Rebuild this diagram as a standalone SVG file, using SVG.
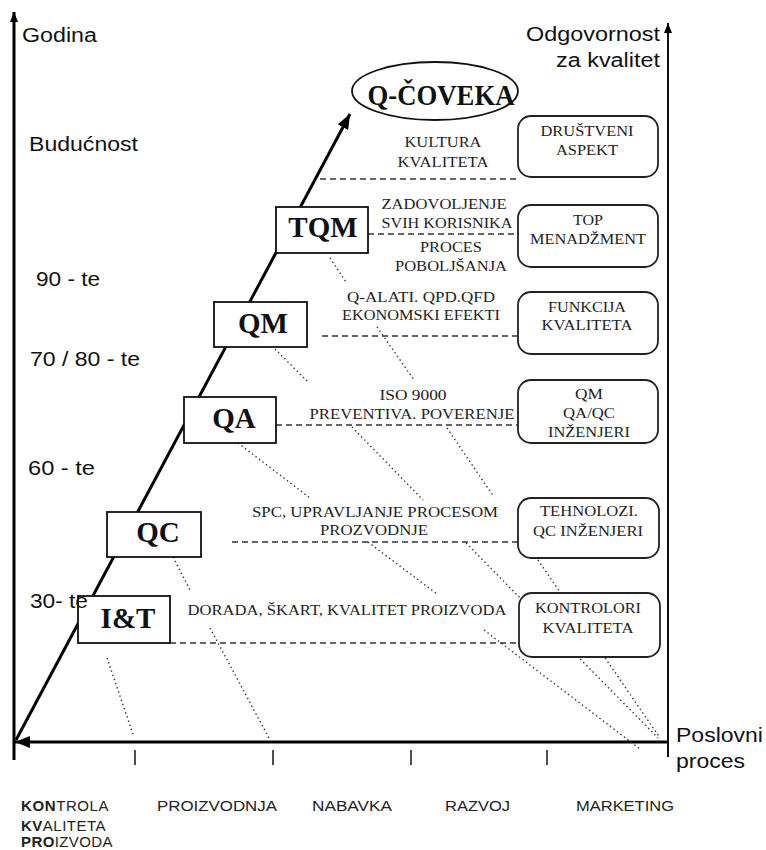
<svg xmlns="http://www.w3.org/2000/svg" width="766" height="850" viewBox="0 0 766 850">
<style>
.box{fill:#fff;stroke:#111;stroke-width:1.8}
.rbox{fill:#fff;stroke:#222;stroke-width:1.8}
.big{font-family:"Liberation Serif","Times New Roman",serif;font-weight:bold;font-size:29px;fill:#111;text-anchor:middle}
.sm{font-family:"Liberation Serif","Times New Roman",serif;font-size:14.5px;fill:#222;text-anchor:middle}
.ax{font-family:"Liberation Sans",Arial,sans-serif;font-size:20px;fill:#111}
.bt{font-family:"Liberation Sans",Arial,sans-serif;font-size:15px;fill:#222}
.dash{stroke:#333;stroke-width:1.6;stroke-dasharray:6 4;fill:none}
.dot{stroke:#333;stroke-width:1.4;stroke-dasharray:1.4 3;fill:none}
</style>
<defs>
<marker id="ah" markerUnits="userSpaceOnUse" markerWidth="16" markerHeight="12" refX="15" refY="6" orient="auto"><path d="M0,0 L15,6 L0,12 z" fill="#000"/></marker>
<marker id="ahs" markerUnits="userSpaceOnUse" markerWidth="10" markerHeight="8" refX="10" refY="4" orient="auto"><path d="M0,0 L10,4 L0,8 z" fill="#000"/></marker>
</defs>
<rect width="766" height="850" fill="#fff"/>
<g id="connectors">
<!-- axes -->
<line x1="14" y1="760" x2="14" y2="12" stroke="#000" stroke-width="3" marker-end="url(#ahs)"/>
<line x1="668" y1="742" x2="15" y2="742" stroke="#000" stroke-width="3.2" marker-end="url(#ah)"/>
<line x1="668" y1="757" x2="668" y2="23" stroke="#111" stroke-width="2" marker-end="url(#ahs)"/>
<g stroke="#222" stroke-width="1.6">
<line x1="135" y1="750" x2="135" y2="765"/>
<line x1="273" y1="750" x2="273" y2="765"/>
<line x1="411" y1="750" x2="411" y2="765"/>
<line x1="547" y1="750" x2="547" y2="765"/>
</g>
<!-- main diagonal -->
<line x1="16" y1="740" x2="350" y2="114" stroke="#000" stroke-width="3" marker-end="url(#ah)"/>
<!-- dashed level lines -->
<line class="dash" x1="320" y1="179" x2="518" y2="179"/>
<line class="dash" x1="368" y1="234" x2="518" y2="234"/>
<line class="dash" x1="322" y1="336" x2="518" y2="336"/>
<line class="dash" x1="276" y1="425" x2="518" y2="425"/>
<line class="dash" x1="232" y1="542" x2="518" y2="542"/>
<line class="dash" x1="170" y1="643" x2="519" y2="643"/>
<!-- dotted lines -->
<line class="dot" x1="107" y1="658" x2="134" y2="737"/>
<path class="dot" d="M173,557 L191,592 M210,628 L270,740"/>
<path class="dot" d="M238,443 L310,498 M368,542 L437,594 M484,630 L640,749"/>
<path class="dot" d="M275,349 L308,382 M352,427 L423,500 M466,543 L658,738"/>
<path class="dot" d="M330,258 L346,282 M377,327 L414,380 M447,428 L494,497 M538,560 L660,738"/>
</g>
<g id="qcoveka">
<ellipse cx="435" cy="91" rx="83" ry="29" fill="#fff" stroke="#111" stroke-width="1.8"/>
<text class="big" x="441" y="105" font-size="27" textLength="147" lengthAdjust="spacingAndGlyphs">Q-ČOVEKA</text>
</g>
<g id="tqm"><rect class="box" x="276" y="207" width="92" height="46"/><text class="big" x="323" y="237">TQM</text></g>
<g id="qm"><rect class="box" x="214" y="302" width="93" height="45"/><text class="big" x="263" y="333">QM</text></g>
<g id="qa"><rect class="box" x="184" y="397" width="92" height="46"/><text class="big" x="234" y="428">QA</text></g>
<g id="qc"><rect class="box" x="107" y="512" width="94" height="45"/><text class="big" x="158" y="542">QC</text></g>
<g id="it"><rect class="box" x="78" y="596" width="92" height="47"/><text class="big" x="128" y="628">I&amp;T</text></g>
<g id="drustveni"><rect class="rbox" x="518" y="116" width="140" height="61" rx="13"/>
<text class="sm" x="587" y="136" textLength="93" lengthAdjust="spacingAndGlyphs">DRUŠTVENI</text>
<text class="sm" x="587" y="155" textLength="62" lengthAdjust="spacingAndGlyphs">ASPEKT</text></g>
<g id="top"><rect class="rbox" x="518" y="205" width="140" height="62" rx="13"/>
<text class="sm" x="588" y="225" textLength="30" lengthAdjust="spacingAndGlyphs">TOP</text>
<text class="sm" x="588" y="244" textLength="116" lengthAdjust="spacingAndGlyphs">MENADŽMENT</text></g>
<g id="funkcija"><rect class="rbox" x="518" y="292" width="140" height="62" rx="13"/>
<text class="sm" x="587" y="312" textLength="78" lengthAdjust="spacingAndGlyphs">FUNKCIJA</text>
<text class="sm" x="587" y="330" textLength="91" lengthAdjust="spacingAndGlyphs">KVALITETA</text></g>
<g id="qmqaqc"><rect class="rbox" x="518" y="380" width="140" height="63" rx="13"/>
<text class="sm" x="589" y="399" textLength="28" lengthAdjust="spacingAndGlyphs">QM</text>
<text class="sm" x="589" y="418" textLength="52" lengthAdjust="spacingAndGlyphs">QA/QC</text>
<text class="sm" x="589" y="437" textLength="82" lengthAdjust="spacingAndGlyphs">INŽENJERI</text></g>
<g id="tehnolozi"><rect class="rbox" x="518" y="498" width="141" height="60" rx="13"/>
<text class="sm" x="589" y="516" textLength="98" lengthAdjust="spacingAndGlyphs">TEHNOLOZI.</text>
<text class="sm" x="588" y="536" textLength="110" lengthAdjust="spacingAndGlyphs">QC INŽENJERI</text></g>
<g id="kontrolori"><rect class="rbox" x="519" y="593" width="141" height="64" rx="13"/>
<text class="sm" x="588" y="613" textLength="106" lengthAdjust="spacingAndGlyphs">KONTROLORI</text>
<text class="sm" x="588" y="633" textLength="91" lengthAdjust="spacingAndGlyphs">KVALITETA</text></g>
<g id="level-texts">
<text class="sm" x="443" y="147" textLength="77" lengthAdjust="spacingAndGlyphs">KULTURA</text>
<text class="sm" x="443" y="167" textLength="91" lengthAdjust="spacingAndGlyphs">KVALITETA</text>
<text class="sm" x="444" y="209" textLength="125" lengthAdjust="spacingAndGlyphs">ZADOVOLJENJE</text>
<text class="sm" x="447" y="228" textLength="131" lengthAdjust="spacingAndGlyphs">SVIH KORISNIKA</text>
<text class="sm" x="451" y="252" textLength="62" lengthAdjust="spacingAndGlyphs">PROCES</text>
<text class="sm" x="451" y="271" textLength="112" lengthAdjust="spacingAndGlyphs">POBOLJŠANJA</text>
<text class="sm" x="421" y="302" textLength="148" lengthAdjust="spacingAndGlyphs">Q-ALATI. QPD.QFD</text>
<text class="sm" x="421" y="320" textLength="158" lengthAdjust="spacingAndGlyphs">EKONOMSKI EFEKTI</text>
<text class="sm" x="413" y="400" textLength="67" lengthAdjust="spacingAndGlyphs">ISO 9000</text>
<text class="sm" x="412" y="419" textLength="205" lengthAdjust="spacingAndGlyphs">PREVENTIVA. POVERENJE</text>
<text class="sm" x="375" y="517" textLength="246" lengthAdjust="spacingAndGlyphs">SPC, UPRAVLJANJE PROCESOM</text>
<text class="sm" x="374" y="535" textLength="108" lengthAdjust="spacingAndGlyphs">PROZVODNJE</text>
<text class="sm" x="347" y="615" textLength="319" lengthAdjust="spacingAndGlyphs">DORADA, ŠKART, KVALITET PROIZVODA</text>
</g>
<g id="axis-labels">
<text class="ax" x="22" y="42" textLength="75" lengthAdjust="spacingAndGlyphs">Godina</text>
<text class="ax" x="29" y="151" textLength="109" lengthAdjust="spacingAndGlyphs">Budućnost</text>
<text class="ax" x="36" y="286" textLength="64" lengthAdjust="spacingAndGlyphs">90 - te</text>
<text class="ax" x="30" y="366" textLength="110" lengthAdjust="spacingAndGlyphs">70 / 80 - te</text>
<text class="ax" x="28" y="475" textLength="67" lengthAdjust="spacingAndGlyphs">60 - te</text>
<text class="ax" x="30" y="608" textLength="58" lengthAdjust="spacingAndGlyphs">30- te</text>
<text class="ax" x="526" y="41" font-size="21" textLength="134" lengthAdjust="spacingAndGlyphs">Odgovornost</text>
<text class="ax" x="556" y="67" font-size="21" textLength="104" lengthAdjust="spacingAndGlyphs">za kvalitet</text>
<text class="ax" x="676" y="742" font-size="21" textLength="87" lengthAdjust="spacingAndGlyphs">Poslovni</text>
<text class="ax" x="676" y="768" font-size="21" textLength="69" lengthAdjust="spacingAndGlyphs">proces</text>
<text class="bt" x="21" y="811" letter-spacing="0.6"><tspan font-weight="bold">KON</tspan>TROLA</text>
<text class="bt" x="21" y="831" letter-spacing="0.5"><tspan font-weight="bold">KV</tspan>ALITETA</text>
<text class="bt" x="21" y="847" letter-spacing="0.4"><tspan font-weight="bold">PRO</tspan>IZVODA</text>
<text class="bt" x="157" y="811" textLength="120" lengthAdjust="spacingAndGlyphs">PROIZVODNJA</text>
<text class="bt" x="312" y="811" textLength="80" lengthAdjust="spacingAndGlyphs">NABAVKA</text>
<text class="bt" x="445" y="811" textLength="65" lengthAdjust="spacingAndGlyphs">RAZVOJ</text>
<text class="bt" x="576" y="811" textLength="98" lengthAdjust="spacingAndGlyphs">MARKETING</text>
</g>
</svg>
